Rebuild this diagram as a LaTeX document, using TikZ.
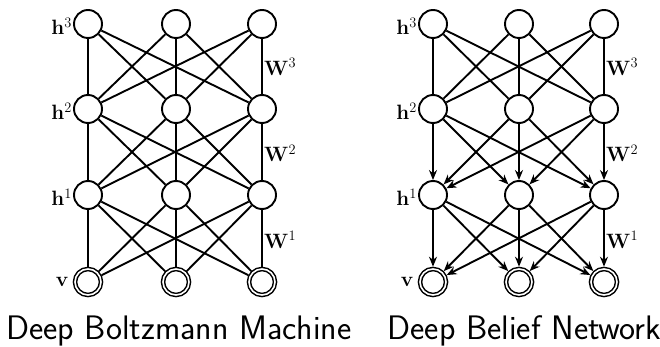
\documentclass[tikz,border=0pt]{standalone}
\usetikzlibrary{arrows.meta}
\begin{document}
\begin{tikzpicture}[x=1pt,y=-1pt,
  unit/.style={circle,draw,fill=white,line width=1.9pt,minimum size=28pt,inner sep=0pt},
  vis/.style={circle,draw,fill=white,line width=1.5pt,double=white,double distance=1.6pt,minimum size=26pt,inner sep=0pt,outer sep=2.3pt},
  edge/.style={line width=1.9pt},
  arr/.style={edge,-{Stealth[length=10pt,width=8pt]}},
  lab/.style={inner sep=1pt,font=\fontsize{22}{26}\selectfont},
  captext/.style={font=\sffamily\fontsize{34}{38}\selectfont,inner sep=0pt}]
\useasboundingbox (0,0) rectangle (660,347);
% ---------- Deep Boltzmann Machine ----------
\foreach \i/\x in {1/88,2/176,3/262} {
  \node[unit] (a3\i) at (\x,24) {};
  \node[unit] (a2\i) at (\x,109) {};
  \node[unit] (a1\i) at (\x,195) {};
  \node[vis]  (a0\i) at (\x,282) {};
}
\foreach \i in {1,2,3} \foreach \j in {1,2,3} {
  \draw[edge] (a3\i) -- (a2\j);
  \draw[edge] (a2\i) -- (a1\j);
  \draw[edge] (a1\i) -- (a0\j);
}
% ---------- Deep Belief Network ----------
\foreach \i/\x in {1/433,2/519,3/604} {
  \node[unit] (b3\i) at (\x,24) {};
  \node[unit] (b2\i) at (\x,109) {};
  \node[unit] (b1\i) at (\x,195) {};
  \node[vis]  (b0\i) at (\x,282) {};
}
\foreach \i in {1,2,3} \foreach \j in {1,2,3} {
  \draw[edge] (b3\i) -- (b2\j);
  \draw[arr] (b2\i) -- (b1\j);
  \draw[arr] (b1\i) -- (b0\j);
}
% ---------- labels ----------
\foreach \p in {a,b} {
  \node[lab,anchor=base east] at ([yshift=-11pt]\p31.west) {$\mathbf{h}^3$};
  \node[lab,anchor=base east] at ([yshift=-11pt]\p21.west) {$\mathbf{h}^2$};
  \node[lab,anchor=base east] at ([yshift=-11pt]\p11.west) {$\mathbf{h}^1$};
  \node[lab,anchor=base east,xshift=-3pt] at ([yshift=-4pt]\p01.west) {$\mathbf{v}$};
  \path (\p33) -- node[lab,anchor=base west,pos=0.5,xshift=1pt,yshift=-9pt] {$\mathbf{W}^3$} (\p23);
  \path (\p23) -- node[lab,anchor=base west,pos=0.5,xshift=1pt,yshift=-10pt] {$\mathbf{W}^2$} (\p13);
  \path (\p13) -- node[lab,anchor=base west,pos=0.5,xshift=1pt,yshift=-10pt] {$\mathbf{W}^1$} (\p03);
}
\node[captext,anchor=base] (capA) at (179,339) {Deep Boltzmann Machine};
\node[captext,anchor=base] (capB) at (524.5,339) {Deep Belief Network};
\end{tikzpicture}
\end{document}
